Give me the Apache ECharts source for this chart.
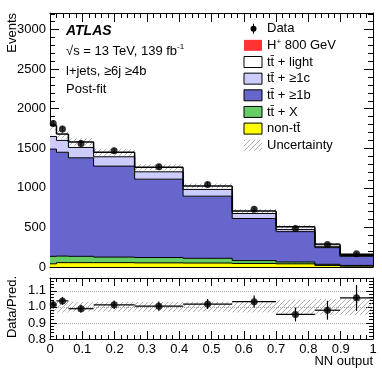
<!DOCTYPE html>
<html>
<head>
<meta charset="utf-8">
<script src="https://cdn.jsdelivr.net/npm/echarts@6/dist/echarts.min.js"></script>
<style>
  html, body { margin: 0; padding: 0; background: #fff; }
  #chart { width: 382px; height: 371px; }
</style>
</head>
<body>
<div id="chart"></div>
<script>
// NN output binning (variable width bins)
const binEdges = [0, 0.02, 0.057, 0.135, 0.262, 0.412, 0.564, 0.70, 0.82, 0.898, 1.0]

// post-fit predictions, events per bin (bottom of stack first)
const nonTT = [40, 55, 55, 55, 52, 50, 45, 40, 20, 10]
const ttX = [95, 83, 80, 70, 68, 60, 36, 23, 14, 10]
const ttB = [1355, 1312, 1245, 1150, 990, 785, 532, 384, 211, 115]
const ttC = [160, 150, 131, 118, 93, 85, 63, 26, 17, 10]
const ttLight = [140, 80, 69, 57, 57, 45, 31, 37, 27, 15]

// data and its stat. error
const dataEvents = [1815, 1743, 1562, 1469, 1266, 1043, 730, 486, 283, 169]
const dataErr = [42, 42, 40, 38, 36, 32, 27, 22, 17, 13]
// relative uncertainty on the prediction
const uncFrac = [0.035, 0.035, 0.03, 0.03, 0.03, 0.03, 0.035, 0.045, 0.05, 0.05]

const xTickLabels = ['0', '0.1', '0.2', '0.3', '0.4', '0.5', '0.6', '0.7', '0.8', '0.9', '1']
const yTickLabels = ['0', '500', '1000', '1500', '2000', '2500', '3000']
const ratioTickLabels = ['0.8', '0.9', '1.0', '1.1']

const FONT = 'Liberation Sans, Arial, Helvetica, sans-serif'
const stackOrder = [
  { values: nonTT, color: '#ffff00' },
  { values: ttX, color: '#66cc66' },
  { values: ttB, color: '#6666cc' },
  { values: ttC, color: '#ccccff' },
  { values: ttLight, color: '#ffffff' }
]

const nBins = binEdges.length - 1
const totals = []
for (let i = 0; i < nBins; i++) {
  let s = 0
  stackOrder.forEach(c => { s += c.values[i] })
  totals.push(s)
}
const cumTop = (i, k) => {
  let s = 0
  for (let j = 0; j <= k; j++) s += stackOrder[j].values[i]
  return s
}
const binItems = []
for (let i = 0; i < nBins; i++) binItems.push([(binEdges[i] + binEdges[i + 1]) / 2, 0, i])

// hatch pattern
const hatch = document.createElement('canvas')
hatch.width = 5
hatch.height = 5
;(function() {
  const c = hatch.getContext('2d')
  c.strokeStyle = '#9a9a9a'
  c.lineWidth = 0.8
  c.beginPath()
  c.moveTo(-1, 6); c.lineTo(6, -1)
  c.moveTo(-1, 1); c.lineTo(1, -1)
  c.moveTo(4, 6); c.lineTo(6, 4)
  c.stroke()
})()
const hatchFill = { image: hatch, repeat: 'repeat' }

function rectFrom(api, xa, ya, xb, yb, pad) {
  const p0 = api.coord([xa, yb])
  const p1 = api.coord([xb, ya])
  return { x: p0[0], y: p0[1], width: p1[0] - p0[0] + (pad || 0), height: p1[1] - p0[1] }
}
function seg(api, xa, ya, xb, yb, color, w) {
  const a = api.coord([xa, ya])
  const b = api.coord([xb, yb])
  return { type: 'line', shape: { x1: a[0], y1: a[1], x2: b[0], y2: b[1] }, style: { stroke: color, lineWidth: w } }
}
const pickLabel = (labels, v, start, step) => {
  const k = Math.round((v - start) / step)
  return Math.abs(v - (start + k * step)) < 1e-6 && labels[k] !== undefined ? labels[k] : ''
}

const chart = echarts.init(document.getElementById('chart'), null, { renderer: 'canvas' })

const axisCommon = {
  axisLine: { show: true, onZero: false, lineStyle: { color: '#000', width: 1 } },
  axisTick: { show: true, inside: true, length: 9, lineStyle: { color: '#000' } },
  minorTick: { show: true, splitNumber: 5, length: 5, lineStyle: { color: '#000' } },
  splitLine: { show: false },
  axisLabel: { show: false }
}
const xMain = Object.assign({}, axisCommon, { type: 'value', min: 0, max: 1, interval: 0.1 })
const yMain = Object.assign({}, axisCommon, { type: 'value', min: 0, max: 3210, interval: 500 })
const yRatio = Object.assign({}, axisCommon, {
  type: 'value', min: 0.8, max: 1.18, interval: 0.1,
  axisTick: { show: true, inside: true, length: 7, lineStyle: { color: '#000' } },
  minorTick: { show: true, splitNumber: 5, length: 4, lineStyle: { color: '#000' } }
})
const xRatio = Object.assign({}, axisCommon, { type: 'value', min: 0, max: 1, interval: 0.1,
  axisTick: { show: true, inside: true, length: 8, lineStyle: { color: '#000' } },
  minorTick: { show: true, splitNumber: 5, length: 4, lineStyle: { color: '#000' } } })

const legendRows = [
  { text: 'Data', kind: 'data' },
  { text: 'H{sup|+} 800 GeV', color: '#ff3333', noStroke: true },
  { text: 'tt\u0304 + light', color: '#ffffff' },
  { text: 'tt\u0304 + \u22651c', color: '#ccccff' },
  { text: 'tt\u0304 + \u22651b', color: '#6666cc' },
  { text: 'tt\u0304 + X', color: '#66cc66' },
  { text: 'non-tt\u0304', color: '#ffff00' },
  { text: 'Uncertainty', kind: 'hatch' }
]
const graphics = []
legendRows.forEach((r, k) => {
  const y = 28.7 + k * 16.65
  if (r.kind === 'data') {
    graphics.push({ type: 'line', shape: { x1: 253.5, y1: y - 5, x2: 253.5, y2: y + 5 }, style: { stroke: '#000', lineWidth: 1 } })
    graphics.push({ type: 'circle', shape: { cx: 253.5, cy: y, r: 3 }, style: { fill: '#000' } })
  } else if (r.kind === 'hatch') {
    graphics.push({ type: 'rect', shape: { x: 244, y: y - 5.5, width: 18, height: 11 }, style: { fill: hatchFill } })
  } else {
    graphics.push({ type: 'rect', shape: { x: 244, y: y - 5.5, width: 18, height: 11 },
      style: { fill: r.color, stroke: r.noStroke ? null : '#000', lineWidth: 1 } })
  }
  graphics.push({ type: 'text', x: 267, y: y, style: { text: r.text, font: '13px ' + FONT, fill: '#000', verticalAlign: 'middle',
    rich: { sup: { fontSize: 8, padding: [0, 0, 8, 0], fontFamily: FONT } } } })
})
graphics.push(
  { type: 'text', x: 66, y: 31, style: { text: 'ATLAS', font: 'italic bold 14px ' + FONT, fill: '#000', verticalAlign: 'middle' } },
  { type: 'text', x: 66, y: 51, style: { text: '\u221As = 13 TeV, 139 fb{sup|-1}', font: '13px ' + FONT, fill: '#000', verticalAlign: 'middle',
    rich: { sup: { fontSize: 8, padding: [0, 0, 8, 0], fontFamily: FONT } } } },
  { type: 'text', x: 66, y: 71, style: { text: 'l+jets, \u22656j \u22654b', font: '13px ' + FONT, fill: '#000', verticalAlign: 'middle' } },
  { type: 'text', x: 66, y: 89.5, style: { text: 'Post-fit', font: '13px ' + FONT, fill: '#000', verticalAlign: 'middle' } },
  { type: 'text', x: 12, y: 13, rotation: Math.PI / 2, style: { text: 'Events', font: '13px ' + FONT, fill: '#000', align: 'right', verticalAlign: 'middle' } },
  { type: 'text', x: 12, y: 307, rotation: Math.PI / 2, style: { text: 'Data/Pred.', font: '13px ' + FONT, fill: '#000', align: 'center', verticalAlign: 'middle' } },
  { type: 'text', x: 373, y: 361, style: { text: 'NN output', font: '13px ' + FONT, fill: '#000', align: 'right', verticalAlign: 'middle' } }
)

chart.setOption({
  animation: false,
  backgroundColor: '#fff',
  textStyle: { fontFamily: FONT },
  grid: [
    { left: 50, top: 13, width: 323, height: 254 },
    { left: 50, top: 278, width: 323, height: 61 }
  ],
  xAxis: [
    Object.assign({}, xMain, { gridIndex: 0, position: 'bottom' }),
    Object.assign({}, xMain, { gridIndex: 0, position: 'top' }),
    Object.assign({}, xRatio, { gridIndex: 1, position: 'bottom',
      axisLabel: { show: true, color: '#000', fontSize: 13, fontFamily: FONT, margin: 4,
        formatter: v => pickLabel(xTickLabels, v, 0, 0.1) } }),
    Object.assign({}, xRatio, { gridIndex: 1, position: 'top' })
  ],
  yAxis: [
    Object.assign({}, yMain, { gridIndex: 0, position: 'left',
      axisLabel: { show: true, color: '#000', fontSize: 13, fontFamily: FONT, margin: 4, showMaxLabel: false,
        formatter: v => pickLabel(yTickLabels, v, 0, 500) } }),
    Object.assign({}, yMain, { gridIndex: 0, position: 'right' }),
    Object.assign({}, yRatio, { gridIndex: 1, position: 'left',
      splitLine: { show: true, lineStyle: { color: '#aaa', type: 'dotted', width: 1 } },
      axisLabel: { show: true, color: '#000', fontSize: 13, fontFamily: FONT, margin: 4, showMaxLabel: false,
        formatter: v => pickLabel(ratioTickLabels, v, 0.8, 0.1) } }),
    Object.assign({}, yRatio, { gridIndex: 1, position: 'right' })
  ],
  graphic: graphics,
  series: [
    { // stacked fills
      type: 'custom', xAxisIndex: 0, yAxisIndex: 0, data: binItems, z: 2,
      renderItem: (params, api) => {
        const i = api.value(2)
        const pad = i < nBins - 1 ? 1 : 0
        const children = []
        let base = 0
        stackOrder.forEach(c => {
          const top = base + c.values[i]
          children.push({ type: 'rect', shape: rectFrom(api, binEdges[i], base, binEdges[i + 1], top, pad), style: { fill: c.color } })
          base = top
        })
        return { type: 'group', children }
      }
    },
    { // uncertainty band
      type: 'custom', xAxisIndex: 0, yAxisIndex: 0, data: binItems, z: 3,
      renderItem: (params, api) => {
        const i = api.value(2)
        const t = totals[i]
        return { type: 'rect', shape: rectFrom(api, binEdges[i], t * (1 - uncFrac[i]), binEdges[i + 1], t * (1 + uncFrac[i])), style: { fill: hatchFill } }
      }
    },
    { // step outlines
      type: 'custom', xAxisIndex: 0, yAxisIndex: 0, data: binItems, z: 4,
      renderItem: (params, api) => {
        const i = api.value(2)
        const children = []
        stackOrder.forEach((c, k) => {
          const w = k === stackOrder.length - 1 ? 1.5 : 1
          const top = cumTop(i, k)
          children.push(seg(api, binEdges[i], top, binEdges[i + 1], top, '#000', w))
          if (i < nBins - 1) {
            children.push(seg(api, binEdges[i + 1], top, binEdges[i + 1], cumTop(i + 1, k), '#000', w))
          }
        })
        return { type: 'group', children }
      }
    },
    { // data error bars
      type: 'custom', xAxisIndex: 0, yAxisIndex: 0, data: binItems, z: 5,
      renderItem: (params, api) => {
        const i = api.value(2)
        const x = api.value(0)
        return seg(api, x, dataEvents[i] - dataErr[i], x, dataEvents[i] + dataErr[i], '#000', 1)
      }
    },
    {
      type: 'scatter', xAxisIndex: 0, yAxisIndex: 0, z: 6,
      symbol: 'circle', symbolSize: 7, itemStyle: { color: '#000' },
      data: binItems.map((b, i) => [b[0], dataEvents[i]])
    },
    { // ratio panel band, bars
      type: 'custom', xAxisIndex: 2, yAxisIndex: 2, data: binItems, z: 3,
      renderItem: (params, api) => {
        const i = api.value(2)
        const x = api.value(0)
        const r = dataEvents[i] / totals[i]
        const e = dataErr[i] / totals[i]
        return {
          type: 'group',
          children: [
            { type: 'rect', shape: rectFrom(api, binEdges[i], 1 - uncFrac[i], binEdges[i + 1], 1 + uncFrac[i]), style: { fill: hatchFill } },
            seg(api, binEdges[i], r, binEdges[i + 1], r, '#000', 1.2),
            seg(api, x, r - e, x, r + e, '#000', 1.2)
          ]
        }
      }
    },
    {
      type: 'scatter', xAxisIndex: 2, yAxisIndex: 2, z: 6,
      symbol: 'circle', symbolSize: 7, itemStyle: { color: '#000' },
      data: binItems.map((b, i) => [b[0], dataEvents[i] / totals[i]])
    }
  ]
})
</script>
</body>
</html>
